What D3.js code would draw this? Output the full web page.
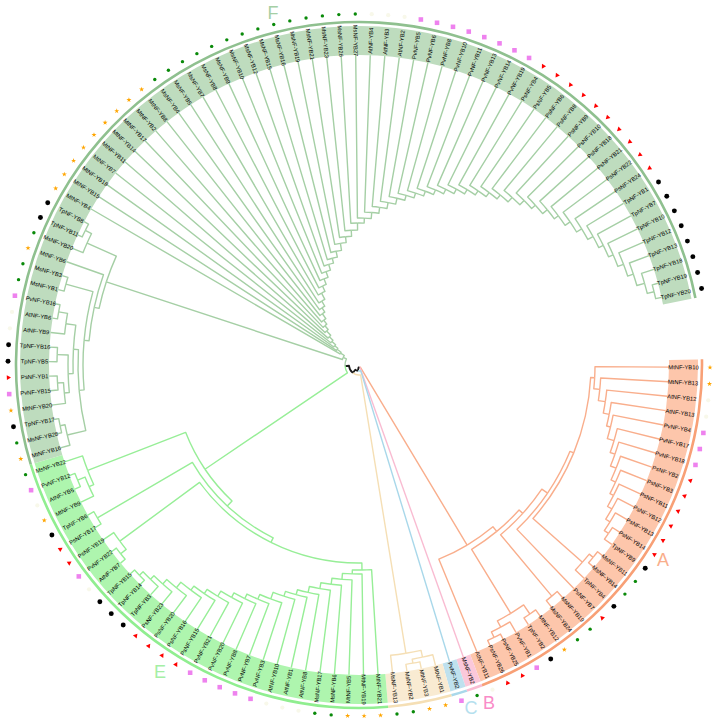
<!DOCTYPE html>
<html>
<head>
<meta charset="utf-8">
<script src="https://cdn.jsdelivr.net/npm/d3@7"></script>
<style>
  html, body { margin: 0; background: #fff; }
  text { font-family: "Liberation Sans", Arial, sans-serif; }
</style>
</head>
<body>
<div id="chart"></div>
<script>
// leaves, clockwise from the right side
const leavesA = ['MtNF-YB10','MtNF-YB13','AtNF-YB12','AtNF-YB13','PvNF-YB4','PvNF-YB17','PvNF-YB18','PsNF-YB2','PsNF-YB3','PsNF-YB11','PsNF-YB12','PsNF-YB13','PsNF-YB14','TpNF-YB9','MsNF-YB11','MsNF-YB14','TpNF-YB4','PsNF-YB7','MsNF-YB19','MsNF-YB24','MtNF-YB12','TpNF-YB2','PvNF-YB1','PsNF-YB25','PsNF-YB26','AtNF-YB11'];
const leavesB = ['MsNF-YB2'];
const leavesC = ['PvNF-YB2'];
const leavesD = ['MtNF-YB1','MtNF-YB3','MsNF-YB2','MsNF-YB13'];
const leavesE = ['MtNF-YB21','MtNF-YB19','MtNF-YB5','MsNF-YB6','MsNF-YB17','AtNF-YB8','AtNF-YB1','AtNF-YB10','PvNF-YB3','PvNF-YB7','PvNF-YB8','PvNF-YB20','PvNF-YB21','PsNF-YB15','PsNF-YB16','PsNF-YB20','PsNF-YB23','TpNF-YB3','TpNF-YB14','TpNF-YB15','AtNF-YB7','PvNF-YB22','PsNF-YB19','PsNF-YB17','TpNF-YB6','MtNF-YB9','AtNF-YB5','PvNF-YB12','MsNF-YB22'];
const leavesF = ['MtNF-YB16','MsNF-YB28','TpNF-YB17','MtNF-YB20','PvNF-YB15','PsNF-YB1','TpNF-YB5','TpNF-YB16','AtNF-YB9','AtNF-YB6','PvNF-YB16','MsNF-YB1','MsNF-YB3','MtNF-YB6','MsNF-YB20','TpNF-YB11','TpNF-YB8','MtNF-YB4','MtNF-YB15','MtNF-YB18','MtNF-YB7','MtNF-YB11','MtNF-YB14','MtNF-YB17','MtNF-YB2','MtNF-YB8','MsNF-YB4','MsNF-YB5','MsNF-YB7','MsNF-YB8','MsNF-YB9','MsNF-YB10','MsNF-YB12','MsNF-YB15','MsNF-YB16','MsNF-YB19','MsNF-YB21','MsNF-YB23','MsNF-YB26','MsNF-YB27','AtNF-YB4','AtNF-YB3','AtNF-YB2','PvNF-YB5','PvNF-YB6','PvNF-YB8','PvNF-YB10','PvNF-YB11','PvNF-YB13','PvNF-YB14','PvNF-YB19','PsNF-YB4','PsNF-YB5','PsNF-YB6','PsNF-YB8','PsNF-YB9','PsNF-YB10','PsNF-YB18','PsNF-YB21','PsNF-YB22','PsNF-YB24','TpNF-YB1','TpNF-YB7','TpNF-YB10','TpNF-YB12','TpNF-YB13','TpNF-YB18','TpNF-YB19','TpNF-YB20'];

// internal nodes: [first leaf, last leaf, distance from root]
const backboneNodes = [[0,129,2.5],[27,129,6],[28,129,10],[32,129,14]];
const nodesA = [[0,25,210],[0,24,216],[20,24,291],[22,24,298],[23,24,304],[20,21,302],[0,19,221],[18,19,301],[0,17,228],[0,16,232],[14,16,298],[14,15,303]];
const nodesD = [[28,31,292],[28,30,299],[29,30,303]];
const nodesE = [[32,60,186],[57,60,291],[57,59,296],[58,59,304],[32,56,193],[55,56,303],[32,54,198],[52,54,297],[52,53,304]];
const nodesF = [[61,129,17.5],[61,77,266],[75,77,298],[76,77,305],[61,74,271],[61,73,276],[72,73,304],[61,71,281],[61,63,300],[62,63,305],[64,71,286],[69,71,296],[70,71,305],[64,68,291],[67,68,302],[64,66,296],[65,66,302]];

// caterpillar parts of the tree, one distance per leaf
const ladderAFirst = 0, ladderALast = 13;
const ladderA = [236,242,249,255,259,266,271,277,282,286,291,296,301];
const ladderEFirst = 32, ladderELast = 51;
const ladderE = [205,209,215,221,227,233,238,243,250,255,260,265,271,276,281,288,294,299,304];
const ladderFFirst = 78, ladderFLast = 129;
const ladderF = [22,27,31,36,41,47,52,57,63,68,74,81,87,93,99,105,110,116,123,129,135,142,147,153,159,165,171,176,181,186,191,196,201,206,211,216,221,227,233,238,244,249,255,261,267,272,277,283,289,297,304];

const cladeNames = ['A','B','C','D','E','F'];
const cladeLines = ['#f9ae8c','#f9bcd2','#a9d8ea','#f5dfb5','#97ee97','#a5cfa5'];
const cladeBands = ['#fdc6ab','#fbc8da','#bfe1ee','#f9ebd2','#aef5ae','#bedcbe'];
const cladeRims = ['#f8a076','#f9bcd2','#a9d8ea','#f5dfb5','#90ee90','#8fc08f'];
const letterColors = { A: '#f9ae8c', B: '#f98cc8', C: '#b5e0ee', E: '#a5efa5', F: '#a5cfa5' };

const species = ['Ms','Mt','At','Pv','Ps','Tp'];
const speciesColors = ['#0a8a0a','#ffa500','#f8f8ea','#ee82ee','#ff0000','#000000'];

const width = 713, height = 727;
const cx = 359, cy = 365;
const innerR = 310, outerR = 339, rimR = 343, markR = 351;

const leafGroups = [leavesA, leavesB, leavesC, leavesD, leavesE, leavesF];
const leaves = leafGroups.flat();
const nLeaves = leaves.length;

// which clade a leaf index falls in
let offset = 0;
const cladeRange = leafGroups.map(g => { const r = [offset, offset + g.length - 1]; offset += g.length; return r; });
const cladeOf = (lo, hi) => cladeRange.findIndex(r => lo >= r[0] && hi <= r[1]);

const angle = d3.scaleLinear().domain([0, nLeaves - 1]).range([0.4, 347.4]);
const radius = d3.scaleLinear().domain([0, 310]).range([0, innerR]);
const rad = d => d * Math.PI / 180;
const polar = (a, r) => [cx + r * Math.cos(rad(a)), cy + r * Math.sin(rad(a))];

// put all nodes together and nest them by the leaf ranges
const allNodes = [...backboneNodes, ...nodesA, ...nodesD, ...nodesE, ...nodesF];
ladderA.forEach((d, i) => allNodes.push([ladderAFirst + i, ladderALast, d]));
ladderE.forEach((d, i) => allNodes.push([ladderEFirst + i, ladderELast, d]));
ladderF.forEach((d, i) => allNodes.push([ladderFFirst + i, ladderFLast, d]));

function build(lo, hi) {
    const me = allNodes.find(n => n[0] === lo && n[1] === hi);
    const kids = [];
    let i = lo;
    while (i <= hi) {
        const inside = allNodes.filter(n => n[0] === i && n[1] <= hi && !(n[0] === lo && n[1] === hi));
        if (inside.length) {
            const best = inside.reduce((a, b) => b[1] > a[1] ? b : a);
            kids.push(build(best[0], best[1]));
            i = best[1] + 1;
        } else {
            kids.push({ lo: i, hi: i, dist: 310 });
            i++;
        }
    }
    return { lo, hi, dist: me[2], children: kids };
}

const root = d3.hierarchy(build(0, nLeaves - 1));
root.eachAfter(d => {
    if (d.children) {
        d.a = (d.children[0].a + d.children[d.children.length - 1].a) / 2;
    } else {
        d.a = angle(d.data.lo);
    }
});

const svg = d3.select('#chart').append('svg')
    .attr('width', width)
    .attr('height', height);

const g = svg.append('g').attr('transform', `translate(${cx},${cy})`);

// label bands
const bandArc = d3.arc().innerRadius(innerR).outerRadius(outerR);
const rimArc = d3.arc().innerRadius(rimR - 1.3).outerRadius(rimR + 1.3);
const step = angle(1) - angle(0);
const wedge = (gen, r) => gen({
    startAngle: rad(angle(r[0]) - step / 2 + 90),
    endAngle: rad(angle(r[1]) + step / 2 + 90)
});

g.selectAll('.band').data(cladeRange).enter().append('path')
    .attr('class', 'band')
    .attr('d', d => wedge(bandArc, d))
    .attr('fill', (d, i) => cladeBands[i]);

g.selectAll('.rim').data(cladeRange).enter().append('path')
    .attr('class', 'rim')
    .attr('d', d => wedge(rimArc, d))
    .attr('fill', (d, i) => cladeRims[i]);

// branches: half of the parent's arc plus the radial part
const branchPath = d => {
    const p = d3.path();
    const r0 = radius(d.parent.data.dist), r1 = radius(d.data.dist);
    const start = polar(d.parent.a, r0), end = polar(d.a, r1);
    p.moveTo(start[0], start[1]);
    p.arc(cx, cy, r0, rad(d.parent.a), rad(d.a), d.a < d.parent.a);
    p.lineTo(end[0], end[1]);
    return p.toString();
};

svg.append('g').selectAll('path')
    .data(root.descendants().filter(d => d.parent))
    .enter().append('path')
    .attr('d', branchPath)
    .attr('fill', 'none')
    .attr('stroke-linejoin', 'round')
    .attr('stroke', d => {
        const c = cladeOf(d.data.lo, d.data.hi);
        return c < 0 ? '#1a1a1a' : cladeLines[c];
    })
    .attr('stroke-width', d => cladeOf(d.data.lo, d.data.hi) < 0 ? 1.8 : 1.4);

// labels
svg.append('g').selectAll('text')
    .data(leaves)
    .enter().append('text')
    .attr('transform', (d, i) => {
        const a = angle(i);
        const pos = polar(a, (innerR + outerR) / 2);
        const flip = a > 90 && a < 270;
        return `translate(${pos[0]},${pos[1]}) rotate(${flip ? a + 180 : a})`;
    })
    .attr('text-anchor', 'middle')
    .attr('dy', '0.35em')
    .attr('font-size', 5.8)
    .attr('fill', '#000')
    .text(d => d);

// species markers
const symbolFor = {
    Ms: d3.symbol().type(d3.symbolCircle).size(9),
    Mt: d3.symbol().type(d3.symbolStar).size(8),
    At: d3.symbol().type(d3.symbolCircle).size(14),
    Pv: d3.symbol().type(d3.symbolSquare).size(21),
    Ps: d3.symbol().type(d3.symbolTriangle).size(10),
    Tp: d3.symbol().type(d3.symbolCircle).size(19)
};

svg.append('g').selectAll('path')
    .data(leaves)
    .enter().append('path')
    .attr('d', d => symbolFor[d.slice(0, 2)]())
    .attr('fill', d => speciesColors[species.indexOf(d.slice(0, 2))])
    .attr('transform', (d, i) => {
        const a = angle(i);
        const pos = polar(a, markR);
        return `translate(${pos[0]},${pos[1]})` + (d.startsWith('Ps') ? ` rotate(${a - 90})` : '');
    });

// clade letters
const letterSpots = { A: [663, 560], B: [489, 703], C: [471, 708], E: [160, 672], F: [273, 13] };
svg.append('g').selectAll('text')
    .data(cladeNames.filter(d => letterSpots[d]))
    .enter().append('text')
    .attr('x', d => letterSpots[d][0])
    .attr('y', d => letterSpots[d][1])
    .attr('text-anchor', 'middle')
    .attr('dy', '0.35em')
    .attr('font-size', 18)
    .attr('fill', d => letterColors[d])
    .text(d => d);
</script>
</body>
</html>
